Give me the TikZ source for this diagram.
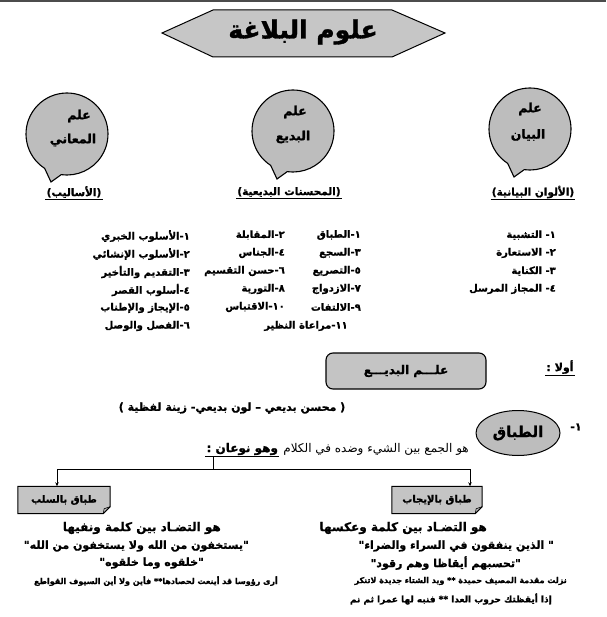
\documentclass[tikz,border=0pt]{standalone}
\usepackage{fontspec}
\newfontfamily\arabicfont[Script=Arabic, BoldFeatures={FakeBold=1.2}]{DejaVu Sans}
\TeXXeTstate=1
\usetikzlibrary{positioning, calc, shapes.geometric, arrows.meta, backgrounds}
\definecolor{hexGray}{HTML}{C6C6C6}
\definecolor{bubGray}{HTML}{BDBDBD}
\definecolor{boxGray}{HTML}{C4C4C4}
\newcommand{\ar}[1]{\beginR #1\endR}
\tikzset{
  every node/.style={font=\arabicfont\bfseries\fontsize{10}{12}\selectfont, inner sep=1pt},
  arr/.style={-{Stealth[length=4pt,width=3.5pt]}, thick},
  bubble/.style={fill=bubGray, draw=black, line width=1.1pt},
  bubtext/.style={font=\arabicfont\bfseries\fontsize{12.5}{14}\selectfont},
  hdr/.style={font=\arabicfont\bfseries\fontsize{10.5}{12}\selectfont},
  item/.style={font=\arabicfont\bfseries\fontsize{10}{12}\selectfont, anchor=east},
  body/.style={font=\arabicfont\bfseries\fontsize{11}{13}\selectfont, anchor=east},
  poem/.style={font=\arabicfont\bfseries\fontsize{8}{10}\selectfont, anchor=east},
  kindbox/.style={font=\arabicfont\bfseries\fontsize{10}{12}\selectfont, minimum height=27pt},
}

\begin{document}
\begin{tikzpicture}[x=1pt, y=-1pt]
  \useasboundingbox (0,0) rectangle (606,617);
  % top edge of the sheet
  \draw[line width=2pt, black!70] (0,1) -- (606,1);
  % title
  \draw[fill=hexGray, line width=1pt] (162,33) -- (213,10) -- (392,10) -- (445,33)
    -- (392,57) -- (213,57) -- cycle;
  \node[font=\arabicfont\bfseries\fontsize{25}{28}\selectfont] (title) at (303,32) {\ar{علوم البلاغة}};

  % the three sciences
  \coordinate (bBayan) at (530,129);
  \coordinate (bBadi) at (293,131);
  \coordinate (bMaani) at (67,134);
  \foreach \c in {bBayan,bBadi,bMaani}
    \draw[bubble] (\c) ++(123:41) arc[start angle=123, end angle=458, radius=41]
      -- ($(\c)+(-16,48)$) -- cycle;
  \node[bubtext] (ilmBayan) at ($(bBayan)+(0,-20)$) {\ar{علم}};
  \node[bubtext] (nameBayan) at ($(bBayan)+(-2,6)$) {\ar{البيان}};
  \node[bubtext] (ilmBadi) at ($(bBadi)+(2,-19)$) {\ar{علم}};
  \node[bubtext] (nameBadi) at ($(bBadi)+(0,6)$) {\ar{البديع}};
  \node[bubtext] (ilmMaani) at ($(bMaani)+(12,-18)$) {\ar{علم}};
  \node[bubtext] (nameMaani) at ($(bMaani)+(6,6)$) {\ar{المعاني}};

  \node[hdr] (hBayan) at (533,192) {\ar{(الألوان البيانية)}};
  \node[hdr] (hBadi) at (289,192) {\ar{(المحسنات البديعية)}};
  \node[hdr] (hMaani) at (74,192) {\ar{(الأساليب)}};
  \foreach \h in {hBayan,hBadi,hMaani}
    \draw[thick] (\h.south west) -- (\h.south east);

  % lists
  \foreach \t [count=\i from 0] in {١- التشبية, ٢- الاستعارة, ٣- الكناية, ٤- المجاز المرسل}
    \node[item] (bayan\i) at (557,{235+18*\i}) {\ar{\t}};
  \foreach \t [count=\i from 0] in {١-الطباق, ٣-السجع, ٥-التصريع, ٧-الازدواج, ٩-الالتفات}
    \node[item] (badiOdd\i) at (362,{235+18*\i}) {\ar{\t}};
  \foreach \t [count=\i from 0] in {٢-المقابلة, ٤-الجناس, ٦-حسن التقسيم, ٨-التورية, ١٠-الاقتباس}
    \node[item] (badiEven\i) at (286,{235+18*\i}) {\ar{\t}};
  \node[item, anchor=center] (badiLast) at (306,326) {\ar{١١-مراعاة النظير}};
  \foreach \t [count=\i from 0] in {١-الأسلوب الخبري, ٢-الأسلوب الإنشائي, ٣-التقديم والتأخير,
      ٤-أسلوب القصر, ٥-الإيجاز والإطناب, ٦-الفصل والوصل}
    \node[item] (maani\i) at (191,{236+18*\i}) {\ar{\t}};

  % first: badi
  \node[font=\arabicfont\bfseries\fontsize{11}{13}\selectfont] (awwalan) at (560,367) {\ar{أولا :}};
  \draw[thick] (awwalan.south west) -- (awwalan.south east);
  \node[draw, line width=1.1pt, rounded corners=7pt, fill=boxGray, minimum width=160pt,
    minimum height=36pt, font=\arabicfont\bfseries\fontsize{12}{14}\selectfont] (badiBox) at (406,371) {\ar{علـــم البديـــع}};
  \node[font=\arabicfont\bfseries\fontsize{11}{13}\selectfont] (badiNote) at (232,408)
    {\ar{( محسن بديعي – لون بديعي- زينة لفظية )}};

  \node[font=\arabicfont\bfseries\fontsize{11}{13}\selectfont] (num1) at (576,427) {\ar{١-}};
  \node[ellipse, draw, line width=1pt, fill=bubGray, minimum width=84pt, minimum height=45pt,
    font=\arabicfont\bfseries\fontsize{15}{17}\selectfont] (tibaq) at (518,433) {\ar{الطباق}};
  \node[anchor=east, font=\arabicfont\fontsize{12}{14}\selectfont] (tibaqDef) at (470,449)
    {\ar{هو الجمع بين الشيء وضده في الكلام}};
  \node[left=3pt of tibaqDef, font=\arabicfont\bfseries\fontsize{12}{14}\selectfont] (kinds) {\ar{وهو نوعان :}};
  \draw[thick] (kinds.south west) -- (kinds.south east);

  % two kinds
  \coordinate (forkL) at (57,469);
  \coordinate (forkR) at (470,469);
  \coordinate (forkTop) at ([xshift=8pt]kinds.south west);
  \draw[thick] (forkL) -- (forkR);
  \draw[thick] (forkTop) -- (forkTop |- forkL);
  \node[kindbox, minimum width=92pt] (tibaqNeg) at (64,500) {\ar{طباق بالسلب}};
  \node[kindbox, minimum width=90pt] (tibaqPos) at (437,500) {\ar{طباق بالإيجاب}};
  \begin{scope}[on background layer]
    \foreach \b in {tibaqNeg,tibaqPos} {
      \draw[fill=boxGray, line width=1pt] (\b.north west) -- (\b.north east)
        -- ([yshift=7pt]\b.south east) -- ([xshift=-7pt]\b.south east) -- (\b.south west) -- cycle;
      \draw[line width=0.6pt] ([yshift=7pt]\b.south east) -- ([xshift=-6pt,yshift=5pt]\b.south east)
        -- ([xshift=-7pt]\b.south east);
    }
  \end{scope}
  \draw[arr] (forkL) -- (forkL |- tibaqNeg.north);
  \draw[arr] (forkR) -- (forkR |- tibaqPos.north);

  % examples
  \node[body, font=\arabicfont\bfseries\fontsize{12}{14}\selectfont] (negDef) at (222,528) {\ar{هو التضـاد بين كلمة ونفيها}};
  \node[body] (negEx1) at (250,546) {\ar{"يستخفون من الله ولا يستخفون من الله"}};
  \node[body] (negEx2) at (205,563) {\ar{"خلقوه وما خلقوه"}};
  \node[poem] (negPoem) at (279,581) {\ar{أرى رؤوسا قد أينعت لحصادها** فأين ولا أين السيوف القواطع}};
  \node[body, font=\arabicfont\bfseries\fontsize{12}{14}\selectfont] (posDef) at (488,528) {\ar{هو التضـاد بين كلمة وعكسها}};
  \node[body] (posEx1) at (555,546) {\ar{" الذين ينفقون في السراء والضراء"}};
  \node[body] (posEx2) at (522,563) {\ar{"تحسبهم أيقاظا وهم رقود"}};
  \node[poem] (posPoem1) at (568,581) {\ar{نزلت مقدمة المصيف حميدة ** ويد الشتاء جديدة لاتنكر}};
  \node[poem, font=\arabicfont\bfseries\fontsize{9}{11}\selectfont] (posPoem2) at (553,599)
    {\ar{إذا أيقظتك حروب العدا ** فنبه لها عمرا ثم نم}};
\end{tikzpicture}
\end{document}
